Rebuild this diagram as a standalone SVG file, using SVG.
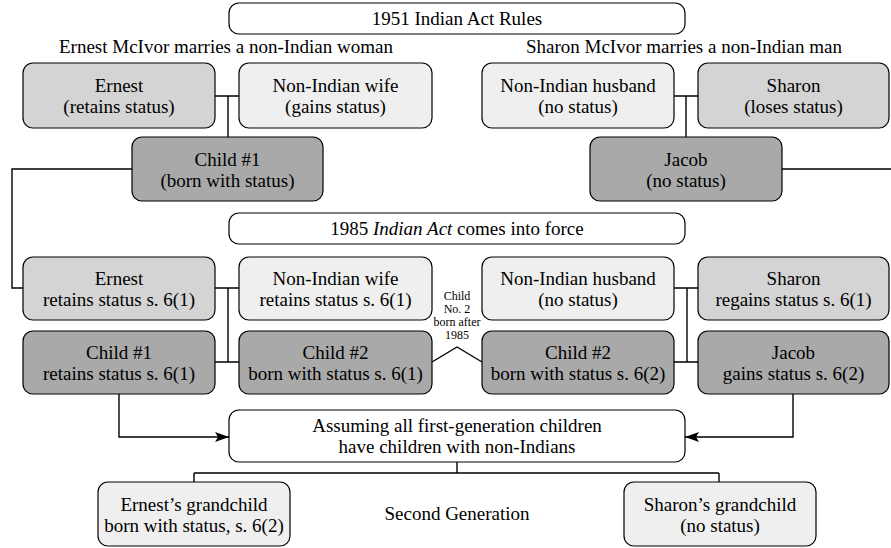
<svg xmlns="http://www.w3.org/2000/svg" width="891" height="548" viewBox="0 0 891 548">
<style>
  text { font-family: "Liberation Serif", "Times New Roman", serif; font-size: 19px; fill: #000; text-anchor: middle; }
  .box { stroke: #000; stroke-width: 1.2; }
  .white { fill: #fff; }
  .light { fill: #efefef; }
  .mid { fill: #d4d4d4; }
  .dark { fill: #a9a9a9; }
  .conn { fill: none; stroke: #000; stroke-width: 1.4; }
  .small { font-size: 12px; }
</style>
<defs>
  <marker id="arr" viewBox="0 0 14 10" refX="14" refY="5" markerWidth="14" markerHeight="10" markerUnits="userSpaceOnUse" orient="auto">
    <path d="M0,0 L14,5 L0,10 L3,5 Z" fill="#000"/>
  </marker>
</defs>
<rect width="891" height="548" fill="#fff"/>

<g id="connectors">
  <path class="conn" d="M215,96 H239 M228,96 V137"/>
  <path class="conn" d="M674,96 H698 M686,96 V137"/>
  <path class="conn" d="M132,169 H12 V288 H23"/>
  <path class="conn" d="M782,169 H891"/>
  <path class="conn" d="M215,288 H239 M228,288 V362 M215,362 H239"/>
  <path class="conn" d="M674,288 H698 M687,288 V362 M674,362 H698"/>
  <path class="conn" d="M432,362 L457,347 L482,362"/>
  <path class="conn" d="M119,394 V437 H229" marker-end="url(#arr)"/>
  <path class="conn" d="M793,394 V437 H685" marker-end="url(#arr)"/>
  <path class="conn" d="M457,462 V473 M194,473 H719 M194,473 V482 M719,473 V482"/>
</g>

<g id="title1951">
  <rect class="box white" x="229" y="3" width="456" height="31" rx="10"/>
  <text x="457" y="25">1951 Indian Act Rules</text>
</g>
<g id="subtitle-ernest">
  <text x="226" y="53">Ernest McIvor marries a non-Indian woman</text>
</g>
<g id="subtitle-sharon">
  <text x="684" y="53">Sharon McIvor marries a non-Indian man</text>
</g>

<g id="ernest1951">
  <rect class="box mid" x="23" y="63" width="192" height="65" rx="10"/>
  <text x="119" y="92">Ernest</text>
  <text x="119" y="113">(retains status)</text>
</g>
<g id="wife1951">
  <rect class="box light" x="239" y="63" width="193" height="65" rx="10"/>
  <text x="335.5" y="92">Non-Indian wife</text>
  <text x="335.5" y="113">(gains status)</text>
</g>
<g id="husband1951">
  <rect class="box light" x="482" y="63" width="192" height="65" rx="10"/>
  <text x="578" y="92">Non-Indian husband</text>
  <text x="578" y="113">(no status)</text>
</g>
<g id="sharon1951">
  <rect class="box mid" x="698" y="63" width="191" height="65" rx="10"/>
  <text x="793.5" y="92">Sharon</text>
  <text x="793.5" y="113">(loses status)</text>
</g>
<g id="child1-1951">
  <rect class="box dark" x="132" y="137" width="191" height="64" rx="10"/>
  <text x="227.5" y="166">Child #1</text>
  <text x="227.5" y="187">(born with status)</text>
</g>
<g id="jacob1951">
  <rect class="box dark" x="590" y="137" width="192" height="64" rx="10"/>
  <text x="686" y="166">Jacob</text>
  <text x="686" y="187">(no status)</text>
</g>

<g id="title1985">
  <rect class="box white" x="229" y="213" width="456" height="31" rx="10"/>
  <text x="457" y="235">1985 <tspan font-style="italic">Indian Act</tspan> comes into force</text>
</g>

<g id="ernest1985">
  <rect class="box mid" x="23" y="257" width="192" height="63" rx="10"/>
  <text x="119" y="285">Ernest</text>
  <text x="119" y="306">retains status s. 6(1)</text>
</g>
<g id="wife1985">
  <rect class="box light" x="239" y="257" width="193" height="63" rx="10"/>
  <text x="335.5" y="285">Non-Indian wife</text>
  <text x="335.5" y="306">retains status s. 6(1)</text>
</g>
<g id="husband1985">
  <rect class="box light" x="482" y="257" width="192" height="63" rx="10"/>
  <text x="578" y="285">Non-Indian husband</text>
  <text x="578" y="306">(no status)</text>
</g>
<g id="sharon1985">
  <rect class="box mid" x="698" y="257" width="191" height="63" rx="10"/>
  <text x="793.5" y="285">Sharon</text>
  <text x="793.5" y="306">regains status s. 6(1)</text>
</g>
<g id="child1-1985">
  <rect class="box dark" x="23" y="331" width="192" height="63" rx="10"/>
  <text x="119" y="359">Child #1</text>
  <text x="119" y="380">retains status s. 6(1)</text>
</g>
<g id="child2-ernest">
  <rect class="box dark" x="239" y="331" width="193" height="63" rx="10"/>
  <text x="335.5" y="359">Child #2</text>
  <text x="335.5" y="380">born with status s. 6(1)</text>
</g>
<g id="child2-sharon">
  <rect class="box dark" x="482" y="331" width="192" height="63" rx="10"/>
  <text x="578" y="359">Child #2</text>
  <text x="578" y="380">born with status s. 6(2)</text>
</g>
<g id="jacob1985">
  <rect class="box dark" x="698" y="331" width="191" height="63" rx="10"/>
  <text x="793.5" y="359">Jacob</text>
  <text x="793.5" y="380">gains status s. 6(2)</text>
</g>

<g id="child2-label">
  <text class="small" x="457" y="300">Child</text>
  <text class="small" x="457" y="313">No. 2</text>
  <text class="small" x="457" y="326">born after</text>
  <text class="small" x="457" y="339">1985</text>
</g>

<g id="assumption">
  <rect class="box white" x="229" y="410" width="456" height="52" rx="10"/>
  <text x="457" y="432">Assuming all first-generation children</text>
  <text x="457" y="453">have children with non-Indians</text>
</g>

<g id="ernest-grandchild">
  <rect class="box light" x="98" y="482" width="192" height="64" rx="10"/>
  <text x="194" y="511">Ernest’s grandchild</text>
  <text x="194" y="532">born with status, s. 6(2)</text>
</g>
<g id="second-generation">
  <text x="457" y="520">Second Generation</text>
</g>
<g id="sharon-grandchild">
  <rect class="box light" x="624" y="482" width="192" height="64" rx="10"/>
  <text x="720" y="511">Sharon’s grandchild</text>
  <text x="720" y="532">(no status)</text>
</g>
</svg>
